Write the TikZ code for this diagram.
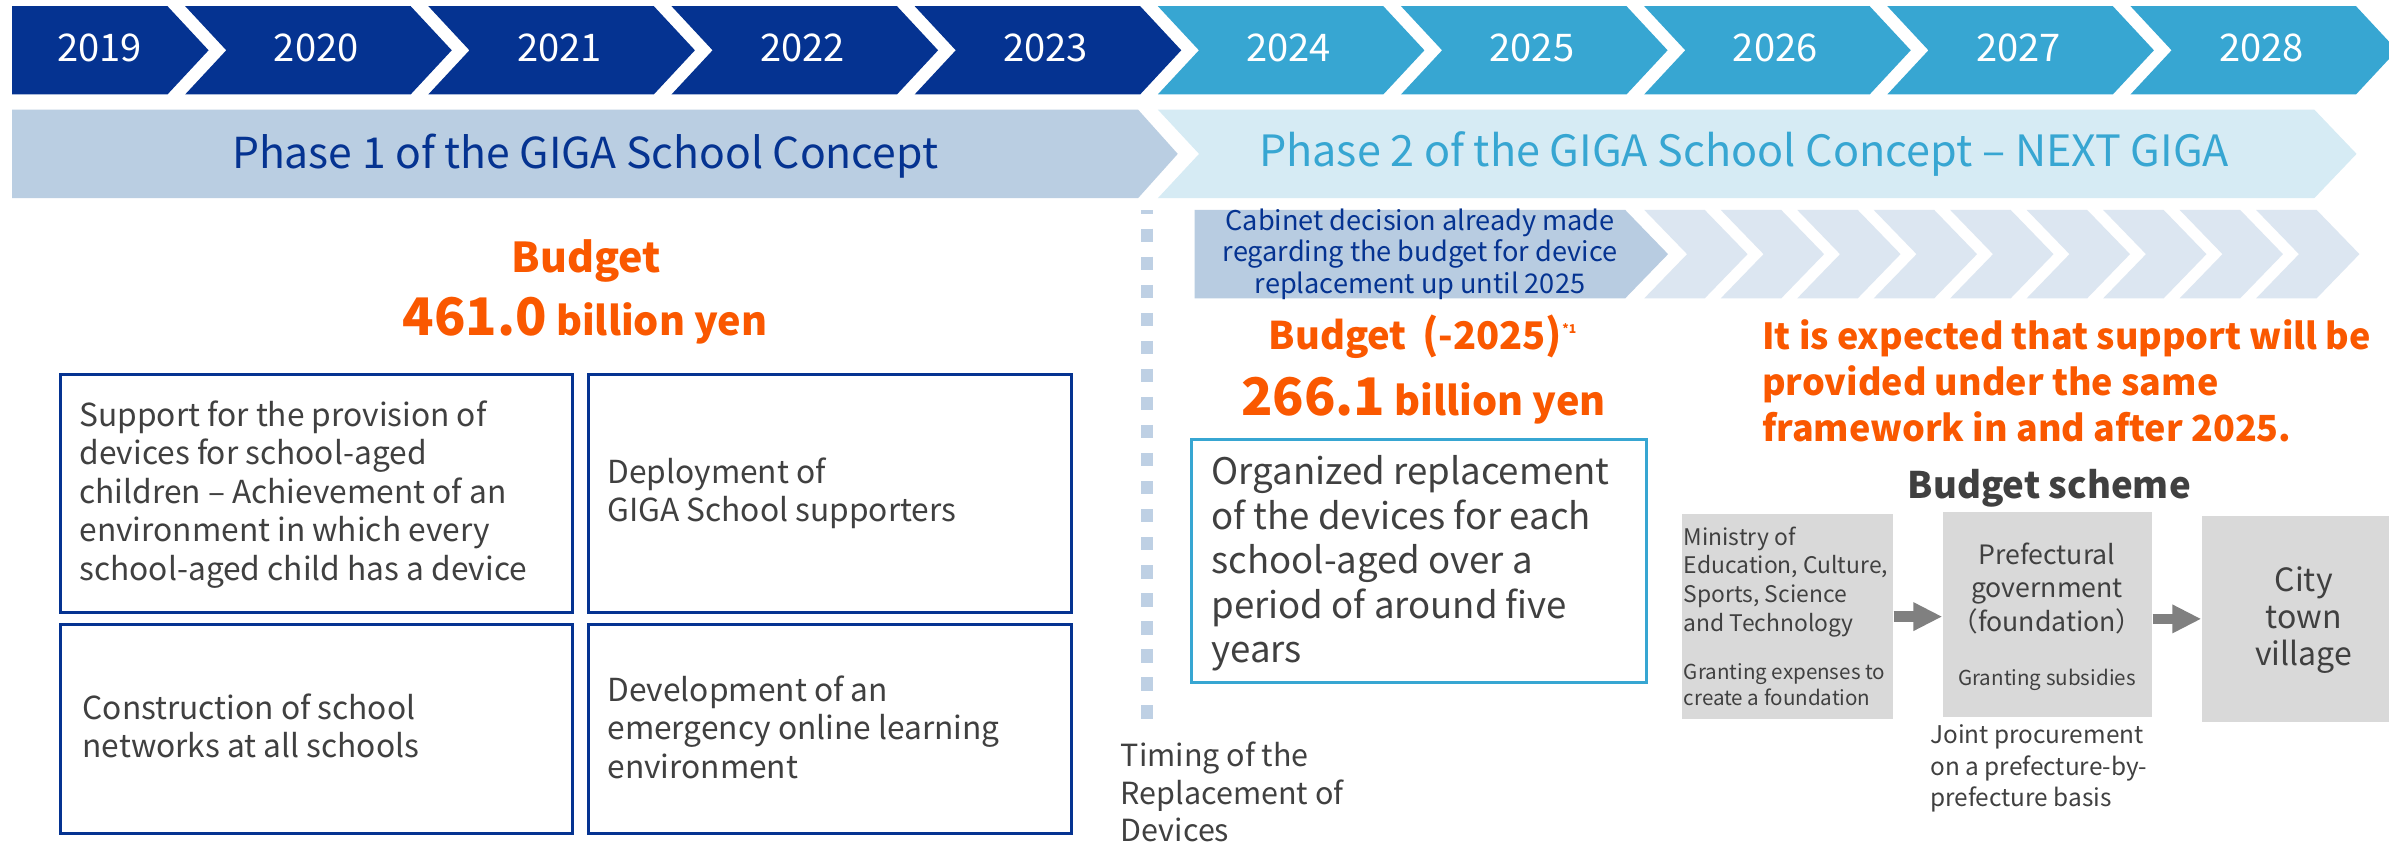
\documentclass[tikz,border=0pt]{standalone}
\usepackage{fontspec}
\setmainfont{Noto Sans CJK JP}
\usetikzlibrary{arrows.meta}
\definecolor{darkblue}{RGB}{5,51,145}
\definecolor{yearblue}{RGB}{55,166,210}
\definecolor{phaseonefill}{RGB}{186,206,226}
\definecolor{phasetwofill}{RGB}{214,235,244}
\definecolor{cabfill}{RGB}{184,204,225}
\definecolor{palefill}{RGB}{220,230,241}
\definecolor{orangetxt}{RGB}{250,88,0}
\definecolor{txtgray}{RGB}{64,64,64}
\definecolor{boxgray}{RGB}{217,217,217}
\definecolor{arrowgray}{RGB}{128,128,128}
\definecolor{dashblue}{RGB}{190,208,228}
\newcommand\mll[1]{\begin{tabular}[t]{@{}l@{}}#1\end{tabular}}
\newcommand\mlc[1]{\begin{tabular}[t]{@{}c@{}}#1\end{tabular}}
\newcommand\fs[2]{\fontsize{#1}{#2}\selectfont}
\begin{document}
\begin{tikzpicture}[x=1pt,y=-1pt,
  yr/.style={inner sep=0pt, text=white, font=\fs{25}{25}},
  bluebox/.style={draw=darkblue, line width=2pt, inner sep=0pt},
  graybox/.style={fill=boxgray, inner sep=0pt},
  boxtxt/.style={anchor=base west, inner sep=0pt, text=txtgray, font=\fs{20.8}{25.3}},
  orangebold/.style={anchor=base, inner sep=0pt, text=orangetxt, font=\bfseries},
  garrow/.style={draw=arrowgray, line width=7pt, -{Triangle[length=19pt,width=17.5pt]}}
]
\useasboundingbox (0,0) rectangle (1568,555);
\fill[white] (0,0) rectangle (1568,555);

% year chevrons
\fill[darkblue] (8,4) -- (109.9,4) -- (136.9,33) -- (109.9,62) -- (8,62) -- cycle;
\node[yr] (y2019) at (65.5,31.7) {2019};
\foreach \i/\yr in {1/2020,2/2021,3/2022,4/2023,5/2024,6/2025,7/2026,8/2027,9/2028}{
  \pgfmathsetmacro\L{-38.1+159.6*\i}
  \ifnum\i<5 \def\chevcol{darkblue}\else\def\chevcol{yearblue}\fi
  \fill[\chevcol] (\L,4) -- ++(148,0) -- ++(27,29) -- ++(-27,29) -- ++(-148,0) -- ++(27,-29) -- cycle;
  \node[yr] (y\yr) at (\L+86,31.7) {\yr};
}

% phase bands
\fill[phaseonefill] (8,72) -- (747,72) -- (773,101) -- (747,130) -- (8,130) -- cycle;
\fill[phasetwofill] (760,72) -- (1519,72) -- (1546.7,101) -- (1519,130) -- (760,130) -- (787,101) -- cycle;
\node[anchor=base, inner sep=0pt, text=darkblue, font=\fs{28}{28}] (ph1) at (384,110.5) {Phase 1 of the GIGA School Concept};
\node[anchor=base, inner sep=0pt, text=yearblue, font=\fs{28.3}{28.3}] (ph2) at (1144.7,109.5) {Phase 2 of the GIGA School Concept – NEXT GIGA};

% cabinet chevron and pale chevrons
\fill[cabfill] (784,137.8) -- (1066.7,137.8) -- (1094.8,166.8) -- (1066.7,195.8) -- (784,195.8) -- cycle;
\foreach \j in {0,...,8}{
  \pgfmathsetmacro\L{1079.2+50.2*\j}
  \fill[palefill] (\L,137.8) -- ++(39.7,0) -- ++(28.1,29) -- ++(-28.1,29) -- ++(-39.7,0) -- ++(28.1,-29) -- cycle;
}
\node[anchor=base, inner sep=0pt, text=darkblue, font=\fs{17.8}{20.75}] (cab) at (932,151)
  {\mlc{Cabinet decision already made\\regarding the budget for device\\replacement up until 2025}};

% dashed timing line
\draw[dashblue, line width=8pt, dash pattern=on 8.8pt off 9.6pt, dash phase=6.3pt] (753,138) -- (753,471.7);
\node[boxtxt, font=\fs{20}{24.6}] (timing) at (735.5,503.2) {\mll{Timing of the\\Replacement of\\Devices}};

% left budget
\node[orangebold, font=\bfseries\fs{27}{27}] (bud1) at (385,179) {Budget};
\node[orangebold] (amt1) at (384,219.9) {{\fs{34}{34}461.0}{\fs{26}{26} billion yen}};

% four blue boxes
\node[bluebox, minimum width=336.5pt, minimum height=156pt] (b1) at (207.75,324) {};
\node[bluebox, minimum width=317pt, minimum height=156pt] (b2) at (544.5,324) {};
\node[bluebox, minimum width=336.5pt, minimum height=137pt] (b3) at (207.75,478.5) {};
\node[bluebox, minimum width=317pt, minimum height=137pt] (b4) at (544.5,478.5) {};
\node[boxtxt] (t1) at (52,279.6) {\mll{Support for the provision of\\devices for school-aged\\children – Achievement of an\\environment in which every\\school-aged child has a device}};
\node[boxtxt] (t2) at (398.5,317.2) {\mll{Deployment of\\GIGA School supporters}};
\node[boxtxt] (t3) at (54,472.1) {\mll{Construction of school\\networks at all schools}};
\node[boxtxt] (t4) at (398.5,460.1) {\mll{Development of an\\emergency online learning\\environment}};

% right budget
\node[orangebold] (bud2) at (933.6,229.7) {{\fs{25}{25}Budget\hspace{0.4em}{\fs{27}{27}(}-2025{\fs{27}{27})}}\raisebox{11pt}{\fs{8}{8}*1}};
\node[orangebold] (amt2) at (934.3,272.4) {{\fs{34}{34}266.1}{\fs{26}{26} billion yen}};
\node[draw=yearblue, line width=2pt, inner sep=0pt, minimum width=298.5pt, minimum height=159.5pt] (org) at (931.55,368.25) {};
\node[boxtxt, font=\fs{24}{29.2}] (orgtxt) at (795,318.3) {\mll{Organized replacement\\of the devices for each\\school-aged over a\\period of around five\\years}};

% expectation
\node[anchor=base west, inner sep=0pt, text=orangetxt, font=\bfseries\fs{23.6}{30.2}] (expect) at (1156.4,229.5)
  {\mll{It is expected that support will be\\provided under the same\\framework in and after 2025.}};

% budget scheme
\node[anchor=base, inner sep=0pt, text=txtgray, font=\bfseries\fs{24}{24}] (scheme) at (1345,327) {Budget scheme};
\node[graybox, minimum width=138.7pt, minimum height=134.6pt] (mA) at (1173.35,404.7) {};
\node[graybox, minimum width=137.6pt, minimum height=134.6pt] (mB) at (1343.8,403.1) {};
\node[graybox, minimum width=123pt, minimum height=135pt] (mC) at (1506.5,406.2) {};
\node[boxtxt, font=\fs{15}{19}] (mAt) at (1105,357.7) {\mll{Ministry of\\Education, Culture,\\Sports, Science\\and Technology}};
\node[boxtxt, font=\fs{13.5}{17.3}] (mAs) at (1105,445.9) {\mll{Granting expenses to\\create a foundation}};
\node[anchor=base, inner sep=0pt, text=txtgray, font=\fs{17.5}{22}] (mBt) at (1343.5,370.2) {\mlc{Prefectural\\government\\（foundation）}};
\node[anchor=base, inner sep=0pt, text=txtgray, font=\fs{13.5}{13.5}] (mBs) at (1343.5,449.6) {Granting subsidies};
\node[anchor=base, inner sep=0pt, text=txtgray, font=\fs{21}{24.1}] (mCt) at (1512,388.3) {\mlc{City\\town\\village}};
\node[boxtxt, font=\fs{16}{20.8}] (joint) at (1266.8,487.9) {\mll{Joint procurement\\on a prefecture-by-\\prefecture basis}};
\draw[garrow] (mA.east) -- (mA.east -| mB.west);
\draw[garrow] (mC.west -| mB.east) -- (mC.west);
\end{tikzpicture}
\end{document}
